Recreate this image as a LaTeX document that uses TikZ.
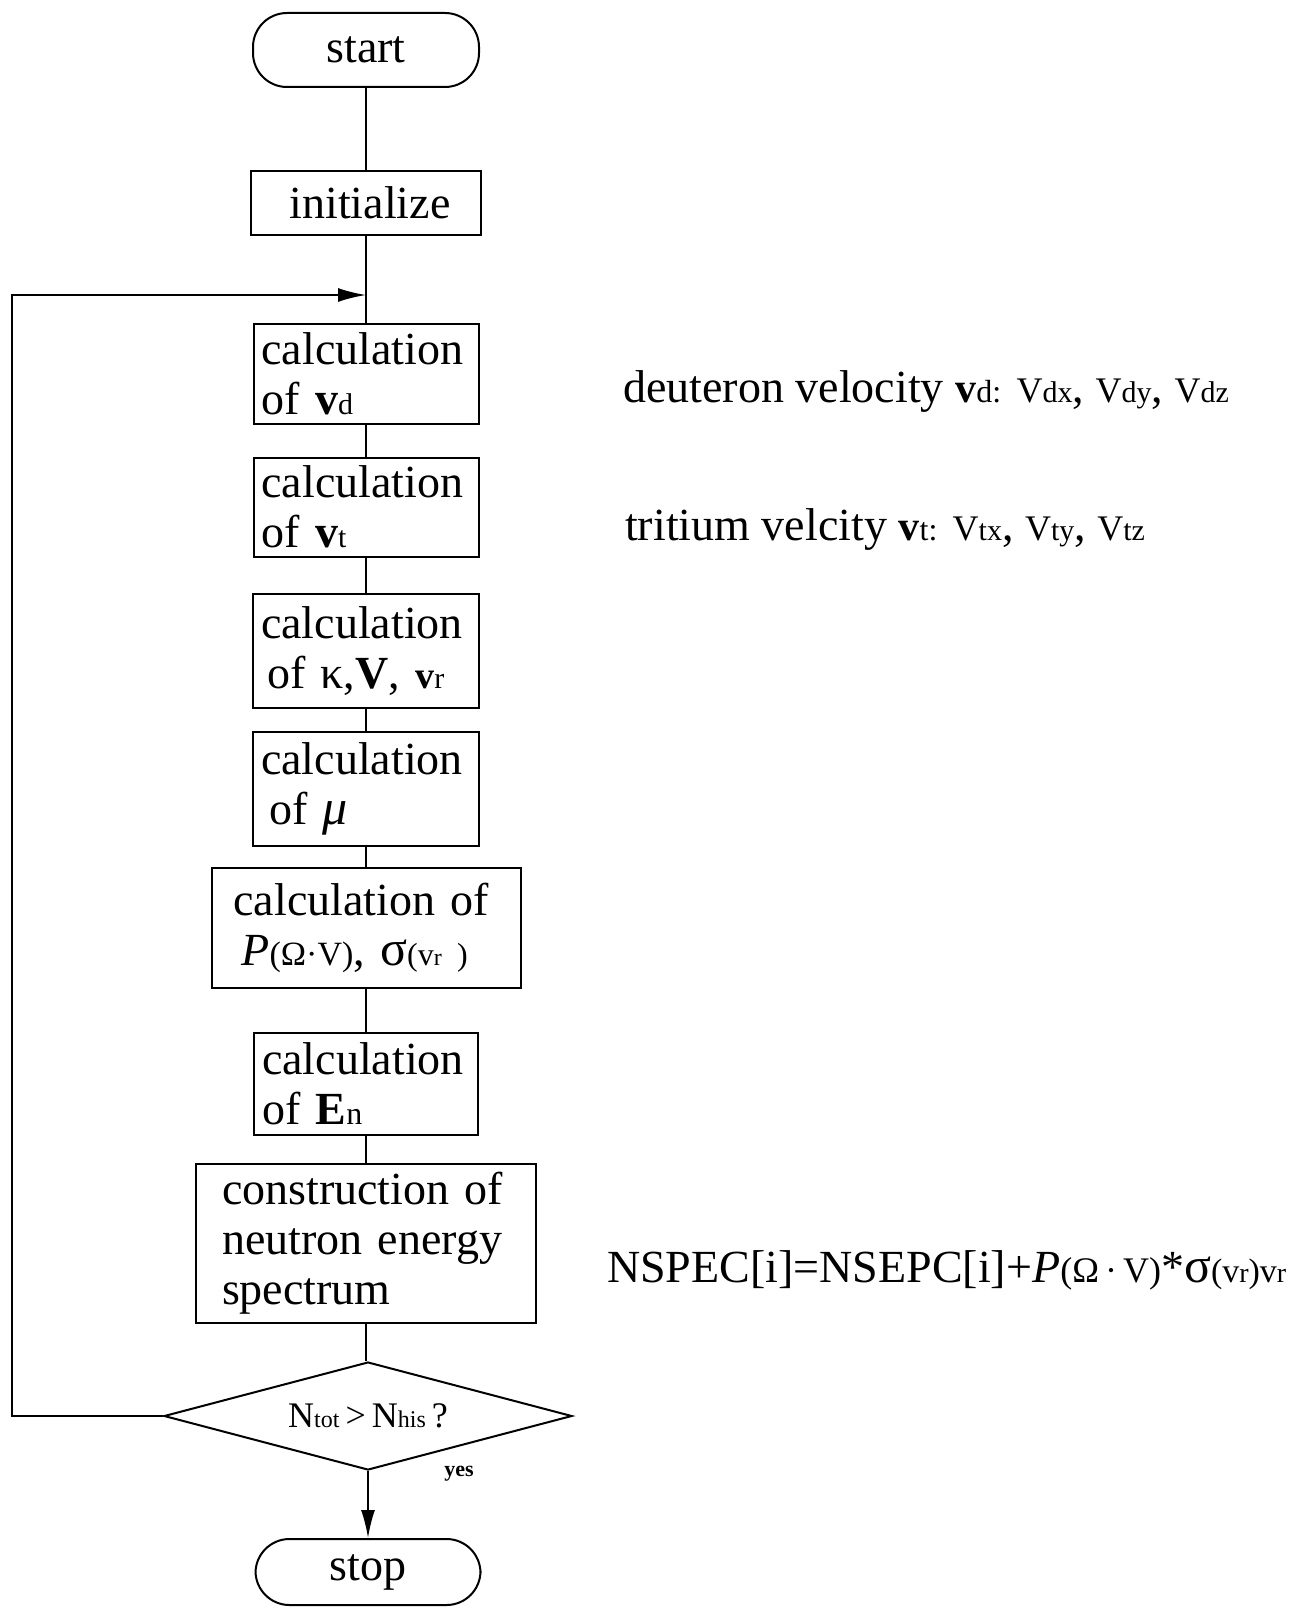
\documentclass[tikz,border=0pt]{standalone}
\usepackage{fontspec}
\setmainfont{Liberation Serif}
\usetikzlibrary{shapes.geometric,arrows.meta}
\newcommand\sm[2]{{\fontsize{#1}{#1}\selectfont #2}}
\tikzset{
  proc/.style={draw, line width=2pt, font=\fontsize{46}{50}\selectfont, align=left, inner xsep=8pt, inner ysep=0pt},
  term/.style={draw, line width=2pt, rounded corners=34pt, font=\fontsize{46}{50}\selectfont, inner sep=0pt},
  dec/.style={draw, diamond, aspect=3.8, line width=2pt, inner sep=0pt, font=\fontsize{36}{40}\selectfont},
  note/.style={anchor=base west, font=\fontsize{46}{50}\selectfont, inner sep=0pt},
  flow/.style={line width=2pt},
  arr/.style={line width=2pt, -{Latex[length=28pt,width=14pt]}}
}
\begin{document}
\begin{tikzpicture}[x=1pt,y=-1pt]
\useasboundingbox[fill=white] (0,0) rectangle (1312,1608);

\node[term, minimum width=226pt, minimum height=74pt] (start) at (366,50) {start};
\node[proc, text width=214pt, align=center, minimum height=64pt] (init) at (366,203) {\hspace{8pt}initialize};
\node[proc, text width=209pt, minimum height=100pt] (vd) at (366,374) {calculation\\of \textbf{v}\sm{30}{d}};
\node[proc, text width=209pt, minimum height=99pt] (vt) at (366,507) {calculation\\of \textbf{v}\sm{30}{t}};
\node[proc, text width=210pt, minimum height=114pt] (kap) at (366,651) {calculation\\\hspace{6pt}of κ,\textbf{V}, \textbf{\sm{38}{v}}\sm{30}{r}};
\node[proc, text width=210pt, minimum height=114pt] (mu) at (366,789) {calculation\\\hspace{8pt}of \textit{\sm{50}{μ}}};
\node[proc, text width=293pt, minimum height=120pt] (P) at (366,928) {\hspace{14pt}calculation of\\\hspace{22pt}\textit{P}\sm{34}{(Ω·V)}, \sm{50}{σ}\sm{32}{(v\sm{24}{r} )}};
\node[proc, text width=208pt, minimum height=102pt] (En) at (366,1084) {calculation\\of \textbf{E}\sm{32}{n}};
\node[proc, inner xsep=26pt, text width=288pt, minimum height=159pt] (cons) at (366,1243) {construction of\\neutron energy\\spectrum};
\node[dec, minimum width=408pt, minimum height=108pt] (dec) at (368,1416) {N\sm{24}{tot}\,>\,N\sm{24}{his}\,?};
\node[term, minimum width=225pt, minimum height=66pt] (stop) at (368,1572) {stop};
\node[font=\bfseries\fontsize{22}{24}\selectfont, inner sep=0pt] (yes) at (459,1474) {yes};

\coordinate (join) at (366,295);
\coordinate (lp) at (12,295);

\draw[flow] (start) -- (init);
\draw[flow] (init) -- (vd);
\draw[flow] (vd) -- (vt);
\draw[flow] (vt) -- (kap);
\draw[flow] (kap) -- (mu);
\draw[flow] (mu) -- (P);
\draw[flow] (P) -- (En);
\draw[flow] (En) -- (cons);
\draw[flow] (cons.south) -- (cons.south |- dec.north);
\draw[arr] (dec.south -| stop.north) -- (stop.north);
\draw[arr] (dec.west) -- (dec.west -| lp) -- (lp) -- (join);

\node[note] (dn) at (623,402) {deuteron velocity \textbf{\sm{42}{v}}\sm{32}{d:} \sm{36}{V}\sm{30}{dx}, \sm{36}{V}\sm{30}{dy}, \sm{36}{V}\sm{30}{dz}};
\node[note] (tn) at (625,540) {tritium velcity \textbf{\sm{42}{v}}\sm{32}{t:} \sm{36}{V}\sm{30}{tx}, \sm{36}{V}\sm{30}{ty}, \sm{36}{V}\sm{30}{tz}};
\node[note] (nn) at (607,1282) {NSPEC[i]=NSEPC[i]+\textit{P}\sm{36}{(Ω\,·\,V)}*\sm{50}{σ}\sm{34}{(v\sm{28}{r})v\sm{28}{r}}};
\end{tikzpicture}
\end{document}
